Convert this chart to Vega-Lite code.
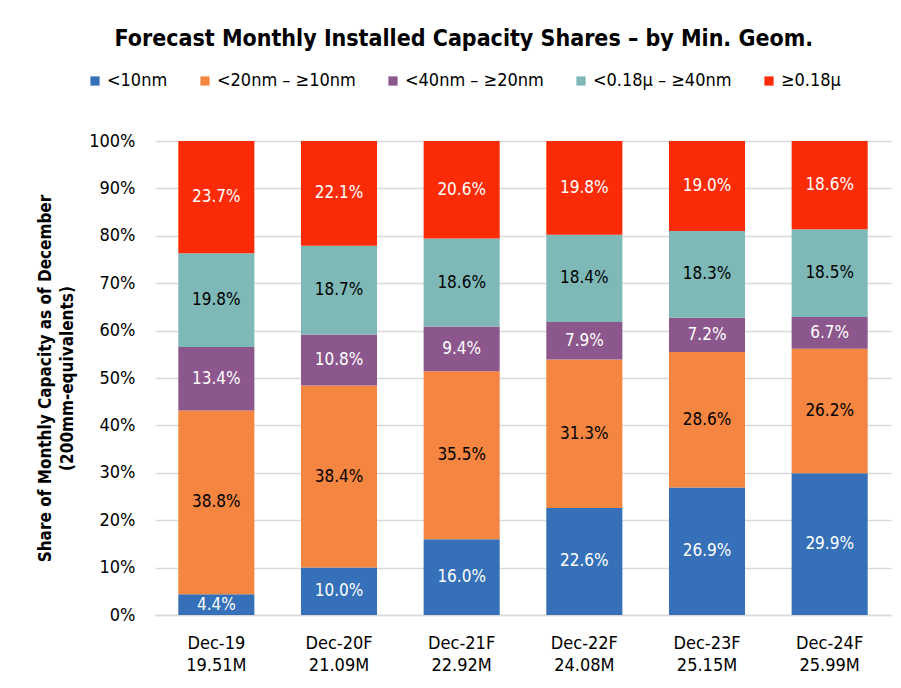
{
  "$schema": "https://vega.github.io/schema/vega-lite/v6.json",
  "width": 736,
  "height": 474,
  "autosize": {"type": "none"},
  "padding": {"left": 155, "top": 141, "right": 10, "bottom": 73},
  "background": "white",
  "title": {
    "text": "Forecast Monthly Installed Capacity Shares – by Min. Geom.",
    "font": "DejaVu Sans Condensed",
    "fontSize": 23,
    "fontWeight": "bold",
    "color": "#000000",
    "anchor": "middle",
    "frame": "bounds",
    "offset": 21
  },
  "config": {
    "font": "DejaVu Sans Condensed",
    "view": {"stroke": null}
  },
  "data": {
    "values": [
      {"cat": "Dec-19 19.51M", "series": "<10nm", "k": 1, "v": 0.044},
      {"cat": "Dec-19 19.51M", "series": "<20nm – ≥10nm", "k": 2, "v": 0.388},
      {"cat": "Dec-19 19.51M", "series": "<40nm – ≥20nm", "k": 3, "v": 0.134},
      {"cat": "Dec-19 19.51M", "series": "<0.18µ – ≥40nm", "k": 4, "v": 0.198},
      {"cat": "Dec-19 19.51M", "series": "≥0.18µ", "k": 5, "v": 0.237},
      {"cat": "Dec-20F 21.09M", "series": "<10nm", "k": 1, "v": 0.100},
      {"cat": "Dec-20F 21.09M", "series": "<20nm – ≥10nm", "k": 2, "v": 0.384},
      {"cat": "Dec-20F 21.09M", "series": "<40nm – ≥20nm", "k": 3, "v": 0.108},
      {"cat": "Dec-20F 21.09M", "series": "<0.18µ – ≥40nm", "k": 4, "v": 0.187},
      {"cat": "Dec-20F 21.09M", "series": "≥0.18µ", "k": 5, "v": 0.221},
      {"cat": "Dec-21F 22.92M", "series": "<10nm", "k": 1, "v": 0.160},
      {"cat": "Dec-21F 22.92M", "series": "<20nm – ≥10nm", "k": 2, "v": 0.355},
      {"cat": "Dec-21F 22.92M", "series": "<40nm – ≥20nm", "k": 3, "v": 0.094},
      {"cat": "Dec-21F 22.92M", "series": "<0.18µ – ≥40nm", "k": 4, "v": 0.186},
      {"cat": "Dec-21F 22.92M", "series": "≥0.18µ", "k": 5, "v": 0.206},
      {"cat": "Dec-22F 24.08M", "series": "<10nm", "k": 1, "v": 0.226},
      {"cat": "Dec-22F 24.08M", "series": "<20nm – ≥10nm", "k": 2, "v": 0.313},
      {"cat": "Dec-22F 24.08M", "series": "<40nm – ≥20nm", "k": 3, "v": 0.079},
      {"cat": "Dec-22F 24.08M", "series": "<0.18µ – ≥40nm", "k": 4, "v": 0.184},
      {"cat": "Dec-22F 24.08M", "series": "≥0.18µ", "k": 5, "v": 0.198},
      {"cat": "Dec-23F 25.15M", "series": "<10nm", "k": 1, "v": 0.269},
      {"cat": "Dec-23F 25.15M", "series": "<20nm – ≥10nm", "k": 2, "v": 0.286},
      {"cat": "Dec-23F 25.15M", "series": "<40nm – ≥20nm", "k": 3, "v": 0.072},
      {"cat": "Dec-23F 25.15M", "series": "<0.18µ – ≥40nm", "k": 4, "v": 0.183},
      {"cat": "Dec-23F 25.15M", "series": "≥0.18µ", "k": 5, "v": 0.190},
      {"cat": "Dec-24F 25.99M", "series": "<10nm", "k": 1, "v": 0.299},
      {"cat": "Dec-24F 25.99M", "series": "<20nm – ≥10nm", "k": 2, "v": 0.262},
      {"cat": "Dec-24F 25.99M", "series": "<40nm – ≥20nm", "k": 3, "v": 0.067},
      {"cat": "Dec-24F 25.99M", "series": "<0.18µ – ≥40nm", "k": 4, "v": 0.185},
      {"cat": "Dec-24F 25.99M", "series": "≥0.18µ", "k": 5, "v": 0.186}
    ]
  },
  "encoding": {
    "x": {
      "field": "cat",
      "type": "nominal",
      "sort": null,
      "scale": {"paddingInner": 0.38, "paddingOuter": 0.19},
      "axis": {
        "title": null,
        "labelAngle": 0,
        "labelExpr": "split(datum.label, ' ')",
        "labelFontSize": 18,
        "labelColor": "#000000",
        "labelPadding": 19,
        "labelLineHeight": 22,
        "ticks": false,
        "domainColor": "#d9d9d9",
        "domainWidth": 1.5
      }
    }
  },
  "layer": [
    {
      "mark": {"type": "bar"},
      "encoding": {
        "y": {
          "field": "v",
          "type": "quantitative",
          "stack": "normalize",
          "scale": {"domain": [0, 1]},
          "axis": {
            "title": ["Share of Monthly Capacity as of December", "(200mm-equivalents)"],
            "titleFontSize": 17,
            "titleFontWeight": "bold",
            "titleColor": "#000000",
            "titleLineHeight": 22,
            "titlePadding": 12,
            "format": ".0%",
            "values": [0, 0.1, 0.2, 0.3, 0.4, 0.5, 0.6, 0.7, 0.8, 0.9, 1],
            "labelFontSize": 18,
            "labelColor": "#000000",
            "labelPadding": 20,
            "ticks": false,
            "domain": false,
            "gridColor": "#d9d9d9",
            "gridWidth": 1.5
          }
        },
        "color": {
          "field": "series",
          "type": "nominal",
          "scale": {
            "domain": ["<10nm", "<20nm – ≥10nm", "<40nm – ≥20nm", "<0.18µ – ≥40nm", "≥0.18µ"],
            "range": ["#3570b8", "#f58642", "#8c578c", "#7eb9b8", "#fb2b07"]
          },
          "legend": {
            "orient": "none",
            "legendX": -69,
            "legendY": -69,
            "direction": "horizontal",
            "title": null,
            "symbolType": "square",
            "symbolSize": 85,
            "symbolStrokeWidth": 0,
            "labelFontSize": 18,
            "labelColor": "#000000",
            "columnPadding": 28,
            "labelOffset": 3
          }
        },
        "order": {"field": "k", "type": "quantitative"}
      }
    },
    {
      "transform": [
        {"stack": "v", "groupby": ["cat"], "sort": [{"field": "k"}], "offset": "normalize", "as": ["y0", "y1"]},
        {"fold": ["y0", "y1"], "as": ["end", "pos"]},
        {"aggregate": [{"op": "mean", "field": "pos", "as": "mid"}], "groupby": ["cat", "series", "v"]}
      ],
      "mark": {"type": "text", "fontSize": 17, "baseline": "middle", "align": "center"},
      "encoding": {
        "y": {"field": "mid", "type": "quantitative"},
        "text": {"field": "v", "type": "quantitative", "format": ".1%"},
        "color": {
          "condition": {"test": "datum.series === '<20nm – ≥10nm' || datum.series === '<0.18µ – ≥40nm'", "value": "#000000"},
          "value": "#ffffff"
        }
      }
    }
  ]
}
